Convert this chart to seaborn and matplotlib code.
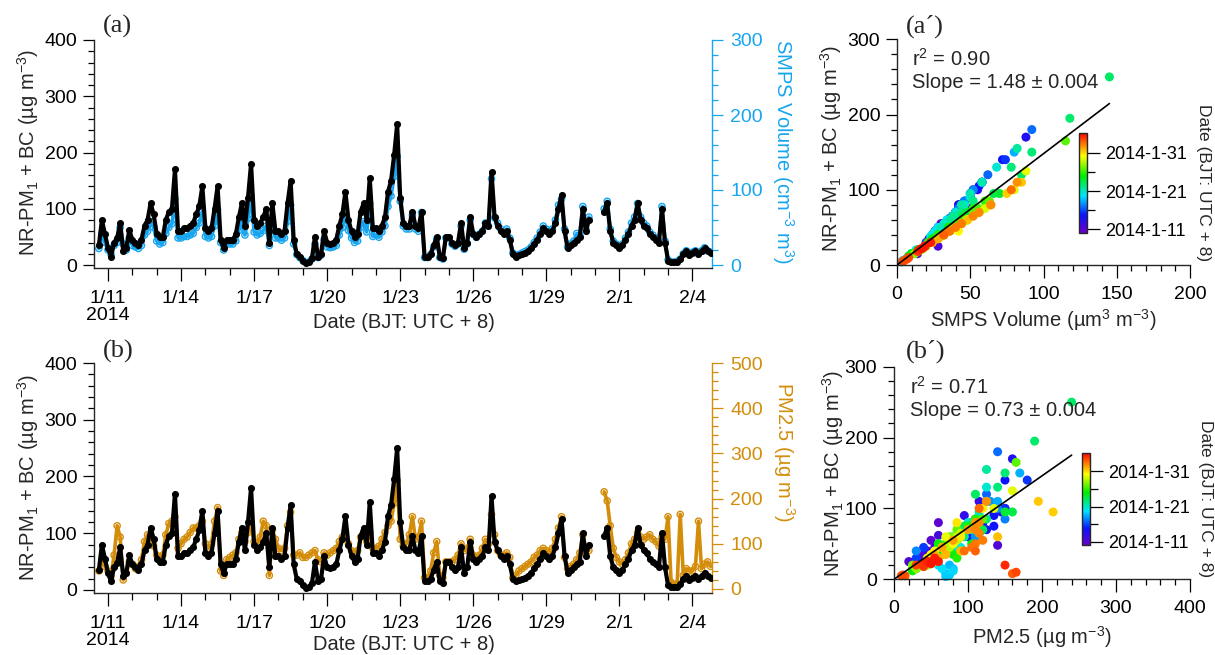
import numpy as np
import pandas as pd
import matplotlib
matplotlib.use("Agg")
import matplotlib.pyplot as plt
import matplotlib.dates as mdates
from matplotlib.colors import LinearSegmentedColormap, Normalize
from matplotlib.cm import ScalarMappable
from matplotlib.ticker import MultipleLocator, FixedLocator, FixedFormatter
import seaborn as sns

nan = np.nan

# ---------------- data (3-hourly) ----------------
start_time = "2014-01-10 15:00"
step = "3h"

nr_pm1_bc = [
    35, 80, 55,                              # 1/10 15-21h
    30, 15, 40, 48, 75, 25, 30, 62,          # 1/11
    45, 40, 35, 45, 70, 80, 110, 90,         # 1/12
    55, 50, 50, 80, 95, 100, 170, 60,        # 1/13
    60, 65, 65, 70, 75, 90, 105, 140,        # 1/14
    65, 60, 65, 100, 140, 45, 30, 45,        # 1/15
    45, 45, 55, 85, 110, 70, 120, 180,       # 1/16
    80, 70, 75, 85, 100, 40, 110, 60,        # 1/17
    60, 55, 60, 110, 150, 45, 20, 15,        # 1/18
    8, 4, 6, 12, 50, 15, 20, 60,             # 1/19
    40, 38, 40, 45, 70, 90, 130, 80,         # 1/20
    60, 50, 55, 95, 110, 80, 155, 65,        # 1/21
    65, 60, 70, 85, 130, 150, 195, 250,      # 1/22
    120, 75, 70, 70, 95, 70, 65, 95,         # 1/23
    15, 15, 20, 35, 50, 15, 12, 50,          # 1/24
    50, 40, 35, 40, 75, 30, 40, 85,          # 1/25
    55, 50, 55, 60, 75, 70, 165, 85,         # 1/26
    70, 60, 55, 60, 45, 20, 15, 18,          # 1/27
    20, 22, 25, 30, 38, 45, 55, 65,          # 1/28
    60, 55, 60, 75, 100, 125, 60, 30,        # 1/29
    35, 40, 45, 50, 100, 60, 80, nan,        # 1/30
    nan, nan, nan, 95, 110, 60, 40, 35,      # 1/31
    30, 35, 45, 55, 70, 80, 110, 80,         # 2/1
    70, 65, 55, 50, 45, 40, 100, 40,         # 2/2
    8, 5, 5, 6, 10, 20, 25, 18,              # 2/3
    22, 25, 20, 25, 30, 25, 22,              # 2/4 00-18h
]

smps_volume = [
    22, 42, 30,
    20, 14, 26, 30, 50, 28, 20, 36,
    26, 24, 22, 26, 40, 45, 58, 50,
    32, 28, 30, 42, 50, 55, 88, 36,
    36, 38, 38, 40, 42, 50, 56, 72,
    38, 36, 38, 52, 74, 30, 20, 28,
    28, 28, 32, 46, 58, 40, 62, 92,
    44, 40, 42, 46, 52, 26, 58, 36,
    36, 33, 36, 58, 80, 28, 14, 10,
    6, 3, 4, 8, 28, 10, 13, 34,
    24, 23, 24, 26, 40, 50, 68, 46,
    36, 30, 32, 50, 58, 44, 82, 38,
    40, 37, 44, 52, 78, 92, 118, 145,
    85, 52, 48, 48, 66, 48, 45, 70,
    10, 10, 14, 24, 35, 10, 8, 36,
    36, 28, 25, 28, 52, 21, 28, 60,
    41, 37, 41, 45, 56, 52, 115, 63,
    56, 48, 44, 48, 36, 16, 12, 14,
    16, 18, 20, 24, 30, 36, 44, 52,
    48, 44, 48, 60, 80, 88, 48, 24,
    28, 32, 42, 40, 78, 48, 64, nan,
    nan, nan, nan, 75, 85, 48, 32, 28,
    24, 28, 36, 44, 56, 64, 82, 64,
    56, 52, 44, 40, 36, 32, 78, 32,
    7, 4, 4, 5, 8, 15, 19, 14,
    17, 19, 15, 19, 23, 19, 17,
]

pm25 = [
    40, 60, 50,
    40, 28, 75, 140, 115, 20, 35, 60,
    55, 45, 50, 65, 105, 120, 115, 95,
    75, 70, 75, 120, 145, 150, 160, 90,
    100, 110, 115, 125, 135, 135, 140, 150,
    100, 90, 100, 150, 180, 40, 30, 65,
    70, 75, 80, 110, 125, 105, 125, 140,
    105, 100, 115, 150, 140, 30, 130, 110,
    90, 85, 90, 140, 170, 75, 75, 80,
    70, 70, 75, 80, 85, 65, 60, 80,
    75, 80, 85, 90, 105, 115, 125, 100,
    85, 80, 85, 115, 125, 105, 125, 90,
    90, 95, 110, 125, 140, 150, 190, 240,
    110, 95, 100, 120, 160, 110, 115, 150,
    25, 25, 40, 80, 105, 30, 25, 60,
    60, 60, 65, 75, 100, 85, 90, 110,
    75, 70, 75, 90, 110, 100, 165, 120,
    85, 75, 75, 80, 70, 25, 30, 40,
    45, 50, 55, 60, 70, 75, 85, 90,
    85, 80, 90, 110, 135, 160, 70, 45,
    50, 55, 65, 80, 120, 90, 85, nan,
    nan, nan, nan, 215, 195, 140, 90, 70,
    60, 55, 65, 80, 100, 110, 125, 115,
    110, 115, 120, 110, 105, 95, 115, 110,
    160, 15, 10, 12, 165, 30, 45, 40,
    40, 50, 150, 45, 55, 60, 50,
]

date_ticks = ["2014-01-11", "2014-01-14", "2014-01-17", "2014-01-20", "2014-01-23",
              "2014-01-26", "2014-01-29", "2014-02-01", "2014-02-04"]
date_tick_labels = ["1/11\n2014", "1/14", "1/17", "1/20", "1/23", "1/26", "1/29", "2/1", "2/4"]
cbar_ticks = ["2014-01-11", "2014-01-21", "2014-01-31"]
cbar_tick_labels = ["2014-1-11", "2014-1-21", "2014-1-31"]
cbar_minor = ["2014-01-16", "2014-01-26"]
cbar_range = ["2014-01-10 02:00", "2014-02-05 05:00"]

slope_a, r2_a, err_a = 1.48, 0.90, 0.004
slope_b, r2_b, err_b = 0.73, 0.71, 0.004

# ---------------- style ----------------
sns.set_theme(style="ticks")
plt.rcParams["font.family"] = ["Liberation Sans", "DejaVu Sans"]
plt.rcParams["mathtext.fontset"] = "custom"
plt.rcParams["mathtext.rm"] = "Liberation Sans"
plt.rcParams["mathtext.it"] = "Liberation Sans:italic"
plt.rcParams["mathtext.bf"] = "Liberation Sans:bold"
plt.rcParams["axes.linewidth"] = 1.0
plt.rcParams["xtick.color"] = "black"
plt.rcParams["ytick.color"] = "black"

CYAN = "#17a5f0"
ORANGE = "#d38d0b"
FS_TICK = 14
FS_LAB = 14.5

cmap = LinearSegmentedColormap.from_list(
    "igor_rainbow",
    [(0.0, "#6a00c8"), (0.18, "#0a14ff"), (0.37, "#00e5ff"), (0.57, "#00ee00"),
     (0.77, "#ffff00"), (0.9, "#ff7000"), (1.0, "#ff0000")])

times = pd.date_range(start_time, periods=len(nr_pm1_bc), freq=step)
df = pd.DataFrame({"time": times, "nr": nr_pm1_bc, "smps": smps_volume, "pm25": pm25})
df["dnum"] = mdates.date2num(df["time"])
cr = mdates.date2num(pd.to_datetime(cbar_range))
norm = Normalize(vmin=cr[0], vmax=cr[1])

W, H = 1215, 655
fig = plt.figure(figsize=(W / 100, H / 100), dpi=100)
fig.patch.set_facecolor("white")


def box(l, t, r, b):
    return [l / W, 1 - b / H, (r - l) / W, (b - t) / H]


def ftext(x, y, s, **kw):
    fig.text(x / W, 1 - y / H, s, **kw)


def style_y(ax, color="black"):
    ax.tick_params(axis="y", which="major", length=8, width=0.9, direction="out",
                   pad=4, labelsize=FS_TICK, colors=color)
    ax.tick_params(axis="y", which="minor", length=4.3, width=0.9, direction="out",
                   colors=color)


def timeseries(ax, col, color, rlim, rmajor, rmin_step):
    axr = ax.twinx()
    axr.plot(df["time"], df[col], color=color, lw=2.6, zorder=1)
    sns.scatterplot(data=df, x="time", y=col, ax=axr, color=color, facecolors="none",
                    edgecolor=color, s=20, linewidth=1.0, zorder=2)
    ax.plot(df["time"], df["nr"], color="black", lw=3.0, zorder=2)
    sns.scatterplot(data=df, x="time", y="nr", ax=ax, color="black", s=26,
                    linewidth=0, zorder=3)
    ax.set_zorder(axr.get_zorder() + 1)
    ax.patch.set_visible(False)

    ax.set_xlim(pd.Timestamp("2014-01-10 10:12"), pd.Timestamp("2014-02-04 19:19"))
    ax.set_ylim(-5.3, 400)
    axr.set_ylim(*rlim)
    ax.set_xlabel("")
    ax.set_ylabel("")
    axr.set_xlabel("")
    axr.set_ylabel("")

    ax.xaxis.set_major_locator(FixedLocator(mdates.date2num(pd.to_datetime(date_ticks))))
    ax.xaxis.set_major_formatter(FixedFormatter(date_tick_labels))
    ax.xaxis.set_minor_locator(mdates.DayLocator())
    ax.tick_params(axis="x", which="major", length=9.5, width=0.9, direction="out",
                   pad=6, labelsize=FS_TICK)
    ax.tick_params(axis="x", which="minor", length=5, width=0.9, direction="out")
    for t in ax.get_xticklabels():
        t.set_linespacing(1.05)

    ax.yaxis.set_major_locator(MultipleLocator(100))
    ax.yaxis.set_minor_locator(MultipleLocator(20))
    style_y(ax)
    axr.yaxis.set_major_locator(MultipleLocator(rmajor))
    axr.yaxis.set_minor_locator(MultipleLocator(rmin_step))
    axr.tick_params(axis="y", which="major", length=8, width=0.9, direction="out",
                    pad=5, labelsize=FS_TICK, colors=color)
    axr.tick_params(axis="y", which="minor", length=4.3, width=0.9, direction="out",
                    colors=color)

    for s in ["top", "right"]:
        ax.spines[s].set_visible(False)
    for s in ["top", "left", "bottom"]:
        axr.spines[s].set_visible(False)
    axr.spines["right"].set_color(color)
    axr.spines["right"].set_linewidth(1.0)
    return axr


def scatter(ax, cax, xcol, xmax, xmajor, xminor, slope, r2, err, text_x, text_y):
    sns.scatterplot(data=df, x=xcol, y="nr", hue="dnum", palette=cmap, hue_norm=norm,
                    s=42, linewidth=0, legend=False, ax=ax, clip_on=False, zorder=2)
    xfit = np.array([0, np.nanmax(df[xcol])])
    ax.plot(xfit, slope * xfit, color="black", lw=1.2, zorder=3)
    ax.set_xlim(0, xmax)
    ax.set_ylim(0, 300)
    ax.set_xlabel("")
    ax.set_ylabel("")
    ax.xaxis.set_major_locator(MultipleLocator(xmajor))
    ax.xaxis.set_minor_locator(MultipleLocator(xminor))
    ax.yaxis.set_major_locator(MultipleLocator(100))
    ax.yaxis.set_minor_locator(MultipleLocator(20))
    ax.tick_params(axis="x", which="major", length=9, width=0.9, direction="out",
                   pad=6, labelsize=FS_TICK)
    ax.tick_params(axis="x", which="minor", length=4.5, width=0.9, direction="out")
    style_y(ax)
    for s in ["top", "right"]:
        ax.spines[s].set_visible(False)
    ax.patch.set_visible(False)
    ftext(text_x, text_y, f"r$^2$ = {r2:.2f}", fontsize=FS_LAB, va="baseline", ha="left")
    ftext(text_x, text_y + 22, f"Slope = {slope:.2f} ± {err:.3f}", fontsize=FS_LAB,
          va="baseline", ha="left")

    sm = ScalarMappable(norm=norm, cmap=cmap)
    cb = fig.colorbar(sm, cax=cax)
    cb.set_ticks(mdates.date2num(pd.to_datetime(cbar_ticks)))
    cb.set_ticklabels(cbar_tick_labels)
    cax.yaxis.set_minor_locator(FixedLocator(mdates.date2num(pd.to_datetime(cbar_minor))))
    cax.tick_params(axis="y", which="major", length=9, width=0.9, pad=4, labelsize=13)
    cax.tick_params(axis="y", which="minor", length=6, width=0.9)
    cb.outline.set_linewidth(1.0)


# ---------------- panels ----------------
ax_a = fig.add_axes(box(94, 40, 712, 268))
ax_b = fig.add_axes(box(94, 363, 712, 593))
ax_as = fig.add_axes(box(897, 39.3, 1190, 265))
ax_bs = fig.add_axes(box(894, 366.7, 1190, 579.3))
cax_a = fig.add_axes(box(1079, 133, 1087, 233))
cax_b = fig.add_axes(box(1082, 453, 1090, 545))

timeseries(ax_a, "smps", CYAN, (-4, 300), 100, 20)
timeseries(ax_b, "pm25", ORANGE, (-8.85, 500), 100, 20)
scatter(ax_as, cax_a, "smps", 200, 50, 10, slope_a, r2_a, err_a, 912, 66)
scatter(ax_bs, cax_b, "pm25", 400, 100, 20, slope_b, r2_b, err_b, 910, 394)

# ---------------- labels ----------------
nr_label = "NR-PM$_1$ + BC (µg m$^{-3}$)"
ftext(28, 152, nr_label, rotation=90, ha="center", va="center", fontsize=FS_LAB)
ftext(28, 477, nr_label, rotation=90, ha="center", va="center", fontsize=FS_LAB)
ftext(831, 148, nr_label, rotation=90, ha="center", va="center", fontsize=FS_LAB)
ftext(833, 473, nr_label, rotation=90, ha="center", va="center", fontsize=FS_LAB)

ftext(783, 152, "SMPS Volume (cm$^{-3}$ m$^{3}$)", rotation=270, ha="center",
      va="center", fontsize=FS_LAB, color=CYAN)
ftext(784, 452, "PM2.5 (µg m$^{-3}$)", rotation=270, ha="center", va="center",
      fontsize=FS_LAB, color=ORANGE)

ftext(404, 322, "Date (BJT: UTC + 8)", ha="center", va="center", fontsize=FS_LAB)
ftext(404, 645, "Date (BJT: UTC + 8)", ha="center", va="center", fontsize=FS_LAB)
ftext(1043, 320, "SMPS Volume (µm$^{3}$ m$^{-3}$)", ha="center", va="center",
      fontsize=FS_LAB)
ftext(1042, 637, "PM2.5 (µg m$^{-3}$)", ha="center", va="center", fontsize=FS_LAB)

ftext(1203, 183, "Date (BJT: UTC + 8)", rotation=270, ha="center", va="center",
      fontsize=12.5)
ftext(1205, 499, "Date (BJT: UTC + 8)", rotation=270, ha="center", va="center",
      fontsize=12.5)

serif = ["Liberation Serif", "DejaVu Serif"]
ftext(117, 26, "(a)", ha="center", va="center", fontsize=19, family=serif)
ftext(118, 351, "(b)", ha="center", va="center", fontsize=19, family=serif)
ftext(925, 26, "(a\u00b4)", ha="center", va="center", fontsize=19, family=serif)
ftext(926, 351, "(b\u00b4)", ha="center", va="center", fontsize=19, family=serif)

fig.savefig("out.png", dpi=100, facecolor="white")
